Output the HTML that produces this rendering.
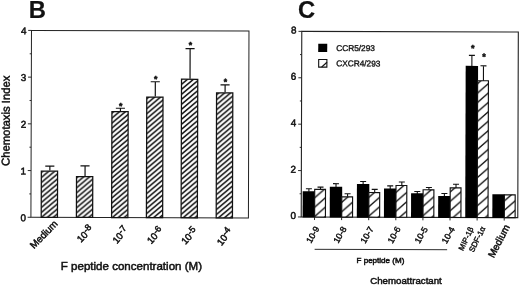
<!DOCTYPE html>
<html><head><meta charset="utf-8"><title>Figure</title>
<style>html,body{margin:0;padding:0;background:#fff;overflow:hidden;}svg{display:block;will-change:transform;}text{font-family:"Liberation Sans",Arial,sans-serif;fill:#111;stroke:#111;stroke-width:0.5px;}.big{stroke-width:0.2px}</style>
</head><body>
<svg width="520" height="286" viewBox="0 0 520 286">
<defs>
<pattern id="hb" patternUnits="userSpaceOnUse" width="5.9" height="5" x="0.1" y="2.9"><rect width="5.9" height="5" fill="#fff"/><path d="M-5.9,10 L11.8,-5 M-5.9,5 L5.9,-5 M0,10 L11.8,0" stroke="#111" stroke-width="1.55"/></pattern>
<pattern id="hc" patternUnits="userSpaceOnUse" width="10.7" height="9.4" x="7.4" y="7.6"><rect width="10.7" height="9.4" fill="#fff"/><path d="M-10.7,18.8 L21.4,-9.4 M-10.7,9.4 L10.7,-9.4 M0,18.8 L21.4,0" stroke="#111" stroke-width="1.3"/></pattern>
</defs>
<rect width="520" height="286" fill="#fff"/>
<text class="big" x="28.7" y="17.7" font-size="23.8" font-weight="bold">B</text>
<g transform="rotate(0.17 139.9 124.2)">
<rect x="31.20" y="30.75" width="217.50" height="186.85" fill="none" stroke="#222" stroke-width="1"/>
<path d="M27.90,217.60 H31.20 M29.50,194.24 H31.20 M27.90,170.89 H31.20 M29.50,147.53 H31.20 M27.90,124.17 H31.20 M29.50,100.82 H31.20 M27.90,77.46 H31.20 M29.50,54.11 H31.20 M27.90,30.75 H31.20" stroke="#222" stroke-width="0.95" fill="none"/>
<text x="26.2" y="221.50" font-size="9.9" text-anchor="end">0</text>
<text x="26.2" y="174.79" font-size="9.9" text-anchor="end">1</text>
<text x="26.2" y="128.07" font-size="9.9" text-anchor="end">2</text>
<text x="26.2" y="81.36" font-size="9.9" text-anchor="end">3</text>
<text x="26.2" y="34.65" font-size="9.9" text-anchor="end">4</text>
<text transform="translate(9.7,166.4) rotate(-90)" font-size="11.3">Chemotaxis Index</text>
<path d="M50.00,170.80 V166.40 M45.40,166.40 H54.50" stroke="#111" stroke-width="1.2" fill="none"/>
<rect x="41.48" y="171.43" width="16.25" height="46.17" fill="url(#hb)" stroke="#111" stroke-width="1.25"/>
<path d="M85.20,176.10 V166.10 M80.60,166.10 H89.70" stroke="#111" stroke-width="1.2" fill="none"/>
<rect x="76.67" y="176.72" width="16.25" height="40.88" fill="url(#hb)" stroke="#111" stroke-width="1.25"/>
<path d="M120.40,111.00 V108.30 M115.80,108.30 H124.90" stroke="#111" stroke-width="1.2" fill="none"/>
<rect x="111.88" y="111.62" width="16.25" height="105.97" fill="url(#hb)" stroke="#111" stroke-width="1.25"/>
<text x="120.70" y="109.10" font-size="8.6" font-weight="bold" text-anchor="middle">*</text>
<path d="M155.20,96.40 V81.70 M150.60,81.70 H159.70" stroke="#111" stroke-width="1.2" fill="none"/>
<rect x="146.68" y="97.03" width="16.25" height="120.57" fill="url(#hb)" stroke="#111" stroke-width="1.25"/>
<text x="155.50" y="81.90" font-size="8.6" font-weight="bold" text-anchor="middle">*</text>
<path d="M189.90,78.50 V48.50 M185.30,48.50 H194.40" stroke="#111" stroke-width="1.2" fill="none"/>
<rect x="181.38" y="79.12" width="16.25" height="138.47" fill="url(#hb)" stroke="#111" stroke-width="1.25"/>
<text x="190.20" y="47.90" font-size="8.6" font-weight="bold" text-anchor="middle">*</text>
<path d="M225.00,92.10 V84.60 M220.40,84.60 H229.50" stroke="#111" stroke-width="1.2" fill="none"/>
<rect x="216.47" y="92.72" width="16.25" height="124.88" fill="url(#hb)" stroke="#111" stroke-width="1.25"/>
<text x="225.30" y="84.40" font-size="8.6" font-weight="bold" text-anchor="middle">*</text>
<text transform="translate(58.60,224.60) rotate(-46)" font-size="9.8" text-anchor="end">Medium</text>
<text transform="translate(94.10,229.60) rotate(-47)" font-size="9.6" text-anchor="end">10<tspan dy="-2.6" font-size="9">-8</tspan></text>
<text transform="translate(129.30,230.10) rotate(-50)" font-size="9.6" text-anchor="end">10<tspan dy="-2.6" font-size="9">-7</tspan></text>
<text transform="translate(164.10,230.60) rotate(-48)" font-size="9.6" text-anchor="end">10<tspan dy="-2.6" font-size="9">-6</tspan></text>
<text transform="translate(198.30,231.10) rotate(-48)" font-size="9.6" text-anchor="end">10<tspan dy="-2.6" font-size="9">-5</tspan></text>
<text transform="translate(233.30,231.20) rotate(-52)" font-size="9.6" text-anchor="end">10<tspan dy="-2.6" font-size="9">-4</tspan></text>
</g>
<text x="60.8" y="270" font-size="11.55">F peptide concentration (M)</text>
<text class="big" x="297.9" y="17.8" font-size="23.8" font-weight="bold">C</text>
<g transform="rotate(0.17 409.8 124.5)">
<rect x="301.50" y="31.70" width="216.55" height="185.60" fill="none" stroke="#222" stroke-width="1.1"/>
<path d="M298.20,217.30 H301.50 M299.80,194.10 H301.50 M298.20,170.90 H301.50 M299.80,147.70 H301.50 M298.20,124.50 H301.50 M299.80,101.30 H301.50 M298.20,78.10 H301.50 M299.80,54.90 H301.50 M298.20,31.70 H301.50" stroke="#222" stroke-width="0.95" fill="none"/>
<text x="296.2" y="219.40" font-size="9.9" text-anchor="end">0</text>
<text x="296.2" y="173.00" font-size="9.9" text-anchor="end">2</text>
<text x="296.2" y="126.60" font-size="9.9" text-anchor="end">4</text>
<text x="296.2" y="80.20" font-size="9.9" text-anchor="end">6</text>
<text x="296.2" y="33.80" font-size="9.9" text-anchor="end">8</text>
<path d="M309.10,192.10 V189.10 M306.10,189.10 H312.10" stroke="#111" stroke-width="1.1" fill="none"/>
<path d="M320.70,189.60 V187.40 M317.70,187.40 H323.70" stroke="#111" stroke-width="1.1" fill="none"/>
<rect x="302.90" y="191.60" width="12.40" height="26.20" fill="#000"/>
<rect x="314.90" y="189.65" width="10.80" height="27.65" fill="url(#hc)" stroke="#111" stroke-width="1.15"/>
<path d="M336.20,187.40 V183.90 M333.20,183.90 H339.20" stroke="#111" stroke-width="1.1" fill="none"/>
<path d="M347.80,197.00 V193.90 M344.80,193.90 H350.80" stroke="#111" stroke-width="1.1" fill="none"/>
<rect x="330.00" y="186.90" width="12.40" height="30.90" fill="#000"/>
<rect x="342.00" y="197.05" width="10.80" height="20.25" fill="url(#hc)" stroke="#111" stroke-width="1.15"/>
<path d="M363.30,184.70 V181.60 M360.30,181.60 H366.30" stroke="#111" stroke-width="1.1" fill="none"/>
<path d="M374.90,192.60 V189.50 M371.90,189.50 H377.90" stroke="#111" stroke-width="1.1" fill="none"/>
<rect x="357.10" y="184.20" width="12.40" height="33.60" fill="#000"/>
<rect x="369.10" y="192.65" width="10.80" height="24.65" fill="url(#hc)" stroke="#111" stroke-width="1.15"/>
<path d="M390.40,189.10 V185.90 M387.40,185.90 H393.40" stroke="#111" stroke-width="1.1" fill="none"/>
<path d="M402.00,185.60 V182.00 M399.00,182.00 H405.00" stroke="#111" stroke-width="1.1" fill="none"/>
<rect x="384.20" y="188.50" width="12.40" height="29.30" fill="#000"/>
<rect x="396.20" y="185.55" width="10.80" height="31.75" fill="url(#hc)" stroke="#111" stroke-width="1.15"/>
<path d="M417.50,194.00 V191.50 M414.50,191.50 H420.50" stroke="#111" stroke-width="1.1" fill="none"/>
<path d="M429.10,190.00 V187.40 M426.10,187.40 H432.10" stroke="#111" stroke-width="1.1" fill="none"/>
<rect x="411.30" y="193.20" width="12.40" height="24.60" fill="#000"/>
<rect x="423.30" y="189.75" width="10.80" height="27.55" fill="url(#hc)" stroke="#111" stroke-width="1.15"/>
<path d="M444.60,197.00 V193.40 M441.60,193.40 H447.60" stroke="#111" stroke-width="1.1" fill="none"/>
<path d="M456.20,188.20 V184.10 M453.20,184.10 H459.20" stroke="#111" stroke-width="1.1" fill="none"/>
<rect x="438.40" y="196.00" width="12.40" height="21.80" fill="#000"/>
<rect x="450.40" y="187.75" width="10.80" height="29.55" fill="url(#hc)" stroke="#111" stroke-width="1.15"/>
<path d="M471.70,66.70 V55.20 M468.70,55.20 H474.70" stroke="#111" stroke-width="1.1" fill="none"/>
<path d="M483.30,81.00 V65.60 M480.30,65.60 H486.30" stroke="#111" stroke-width="1.1" fill="none"/>
<rect x="465.50" y="65.70" width="12.40" height="152.10" fill="#000"/>
<rect x="477.50" y="80.55" width="10.80" height="136.75" fill="url(#hc)" stroke="#111" stroke-width="1.15"/>
<rect x="492.60" y="194.00" width="12.40" height="23.80" fill="#000"/>
<rect x="504.60" y="194.55" width="10.80" height="22.75" fill="url(#hc)" stroke="#111" stroke-width="1.15"/>
<path d="M314.80,217.30 V220.30 M341.90,217.30 V220.30 M369.00,217.30 V220.30 M396.10,217.30 V220.30 M423.20,217.30 V220.30 M450.30,217.30 V220.30 M477.40,217.30 V220.30 M504.50,217.30 V220.30" stroke="#222" stroke-width="0.95" fill="none"/>
<text x="472.6" y="51.0" font-size="9" font-weight="bold" text-anchor="middle">*</text>
<text x="483.7" y="59.6" font-size="9" font-weight="bold" text-anchor="middle">*</text>
<rect x="318" y="44" width="9" height="8.3" fill="#000"/>
<rect x="318.5" y="59.8" width="8.2" height="7.6" fill="#fff" stroke="#111" stroke-width="1.1"/>
<path d="M321.4,67.4 L326.8,62.4" stroke="#111" stroke-width="1.3" fill="none"/>
<text x="336" y="51.1" font-size="8.3" style="stroke-width:0.35px">CCR5/293</text>
<text x="336" y="66.5" font-size="8.3" style="stroke-width:0.35px">CXCR4/293</text>
<text transform="translate(320.00,228.90) rotate(-60.5)" font-size="8.7" style="stroke-width:0.45px" text-anchor="end">10-9</text>
<text transform="translate(347.10,228.90) rotate(-60.5)" font-size="8.7" style="stroke-width:0.45px" text-anchor="end">10-8</text>
<text transform="translate(374.20,228.90) rotate(-60.5)" font-size="8.7" style="stroke-width:0.45px" text-anchor="end">10-7</text>
<text transform="translate(401.30,228.90) rotate(-60.5)" font-size="8.7" style="stroke-width:0.45px" text-anchor="end">10-6</text>
<text transform="translate(428.40,228.90) rotate(-60.5)" font-size="8.7" style="stroke-width:0.45px" text-anchor="end">10-5</text>
<text transform="translate(455.50,228.90) rotate(-60.5)" font-size="8.7" style="stroke-width:0.45px" text-anchor="end">10-4</text>
<text transform="translate(474.00,228.40) rotate(-65)" font-size="7.7" style="stroke-width:0.4px" text-anchor="end">MIP-1&#946;</text>
<text transform="translate(485.90,228.00) rotate(-64)" font-size="7.9" style="stroke-width:0.4px" text-anchor="end">SDF-1&#945;</text>
<text transform="translate(510.30,226.60) rotate(-63)" font-size="10" text-anchor="end">Medium</text>
<path d="M315,249.6 H447.5" stroke="#222" stroke-width="0.95" fill="none"/>
</g>
<text x="356.5" y="262.6" font-size="8.05">F peptide (M)</text>
<text x="370.2" y="284.2" font-size="9.7">Chemoattractant</text>
</svg>
</body></html>
